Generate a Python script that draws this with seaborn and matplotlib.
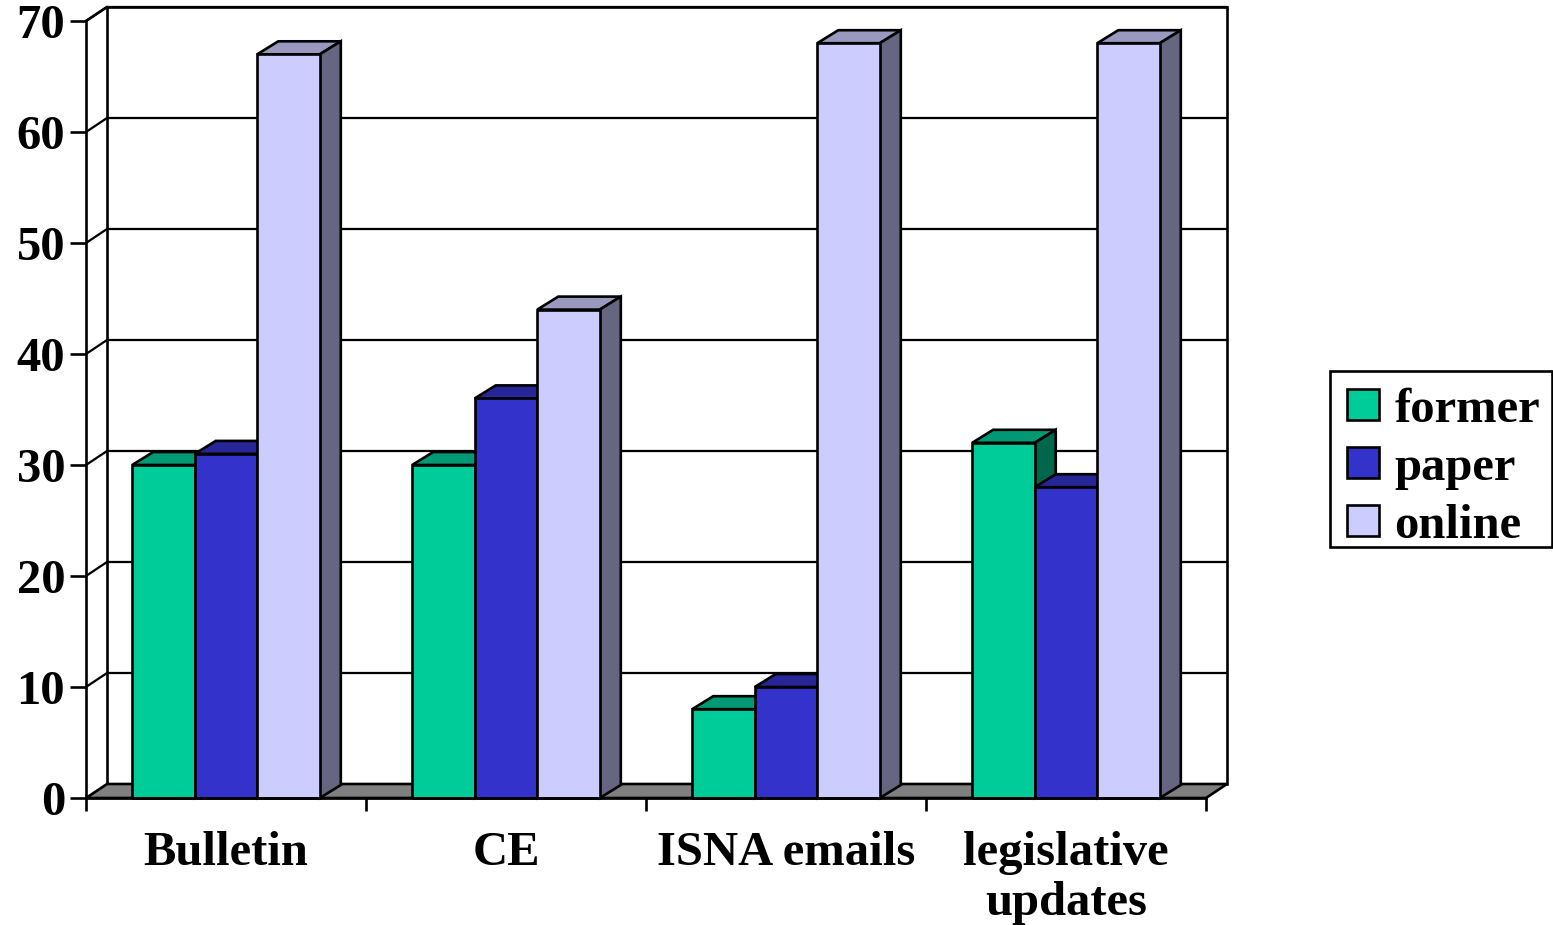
import matplotlib
matplotlib.use("Agg")
import matplotlib.pyplot as plt
from matplotlib.patches import Polygon, Rectangle
from matplotlib.colors import to_rgb
import numpy as np
import pandas as pd
import seaborn as sns

categories = ["Bulletin", "CE", "ISNA emails", "legislative\nupdates"]
series_names = ["former", "paper", "online"]
former = [30, 30, 8, 32]
paper = [31, 36, 10, 28]
online = [67, 44, 68, 68]
y_ticks = [0, 10, 20, 30, 40, 50, 60, 70]

front_colors = ["#00CC99", "#3333CC", "#CCCCFF"]
top_colors = ["#009973", "#262699", "#9999BF"]
side_colors = ["#00664D", "#1A1A66", "#666680"]

W, H = 1553, 925
sns.set_theme(style="white")
plt.rcParams["font.family"] = ["Liberation Serif", "DejaVu Serif"]
plt.rcParams["font.weight"] = "bold"

LW = 1.9
FS = 35

df = pd.DataFrame({"category": categories, "former": former, "paper": paper, "online": online})
long = df.melt(id_vars="category", var_name="series", value_name="value")

fig = plt.figure(figsize=(W / 100, H / 100), dpi=100, facecolor="white")
ax = fig.add_axes([86 / W, (H - 798) / H, 1120 / W, 777 / H])
ax.set_facecolor("none")

sns.barplot(data=long, x="category", y="value", hue="series", order=categories,
            hue_order=series_names, palette=front_colors, saturation=1,
            width=0.67, gap=0, edgecolor="black", linewidth=LW, ax=ax, legend=True)

ax.set_xlim(-0.5, 3.5)
ax.set_ylim(0, 70)
DX = 21 / 280
DY = 14 / 11.1
BDY = 13 / 11.1
x0, x1 = ax.get_xlim()

# bars as drawn by seaborn, collected before the depth faces are added
bars = sorted([p for p in ax.patches if isinstance(p, Rectangle) and p.get_height() > 0],
              key=lambda p: p.get_x())

# back wall, side wall and floor
ax.add_patch(Polygon([(x0 + DX, DY), (x1 + DX, DY), (x1 + DX, 70 + DY), (x0 + DX, 70 + DY)],
                     closed=True, fc="white", ec="black", lw=LW, zorder=0.5, clip_on=False))
ax.add_patch(Polygon([(x0, 0), (x0 + DX, DY), (x1 + DX, DY), (x1, 0)],
                     closed=True, fc="#808080", ec="black", lw=LW, zorder=0.6, clip_on=False))
for v in y_ticks:
    if v > 0:
        ax.plot([x0, x0 + DX, x1 + DX], [v, v + DY, v + DY], color="black", lw=LW * 0.85,
                zorder=1, clip_on=False, solid_joinstyle="miter")
ax.plot([x0, x0 + DX], [70, 70 + DY], color="black", lw=LW, zorder=1, clip_on=False)

# depth faces of the bars
for i, b in enumerate(bars):
    idx = [j for j, c in enumerate(front_colors)
           if np.allclose(to_rgb(c), b.get_facecolor()[:3], atol=0.01)][0]
    l, r, h = b.get_x(), b.get_x() + b.get_width(), b.get_height()
    z = 3 + i * 0.1
    ax.add_patch(Polygon([(l, h), (l + DX, h + BDY), (r + DX, h + BDY), (r, h)], closed=True,
                         fc=top_colors[idx], ec="black", lw=LW, zorder=z, clip_on=False))
    ax.add_patch(Polygon([(r, 0), (r + DX, BDY), (r + DX, h + BDY), (r, h)], closed=True,
                         fc=side_colors[idx], ec="black", lw=LW, zorder=z, clip_on=False))
    b.set_zorder(z + 0.01)
    b.set_clip_on(False)

sns.despine(ax=ax, top=True, right=True)
for s in ("left", "bottom"):
    ax.spines[s].set_linewidth(LW)
    ax.spines[s].set_color("black")
    ax.spines[s].set_zorder(10)

ax.set_xlabel("")
ax.set_ylabel("")
ax.set_yticks(y_ticks)
ax.tick_params(axis="y", left=True, length=11.5, width=LW, pad=3.5, labelsize=FS, color="black", labelcolor="black")
ax.tick_params(axis="x", which="major", length=0, pad=23.5, labelsize=FS, labelcolor="black")
ax.set_xticks(np.arange(-0.5, 4, 1), minor=True)
ax.tick_params(axis="x", which="minor", bottom=True, length=9.5, width=LW, color="black")
for t in ax.get_xticklabels():
    t.set_linespacing(1.2)
    t.set_fontweight("bold")
for t in ax.get_yticklabels():
    t.set_fontweight("bold")

# legend frame in figure space, legend entries placed inside it
fig.add_artist(Rectangle((1330 / W, (H - 547) / H), 222 / W, 176 / H, transform=fig.transFigure,
                         fc="white", ec="black", lw=LW, zorder=-1))
sns.move_legend(ax, loc="upper left", bbox_to_anchor=(1347 / W, (H - 387.5) / H),
                bbox_transform=fig.transFigure, title=None, frameon=False,
                fontsize=FS, labelcolor="black", handlelength=0.66, handleheight=0.6,
                handletextpad=0.31, borderpad=0, labelspacing=0.29, borderaxespad=0)
leg = ax.get_legend()
leg.set_zorder(20)
for h in leg.legend_handles:
    h.set_edgecolor("black")
    h.set_linewidth(LW)
for t in leg.get_texts():
    t.set_fontweight("bold")
    t.set_color("black")

fig.savefig("out.png", dpi=100, facecolor="white")
